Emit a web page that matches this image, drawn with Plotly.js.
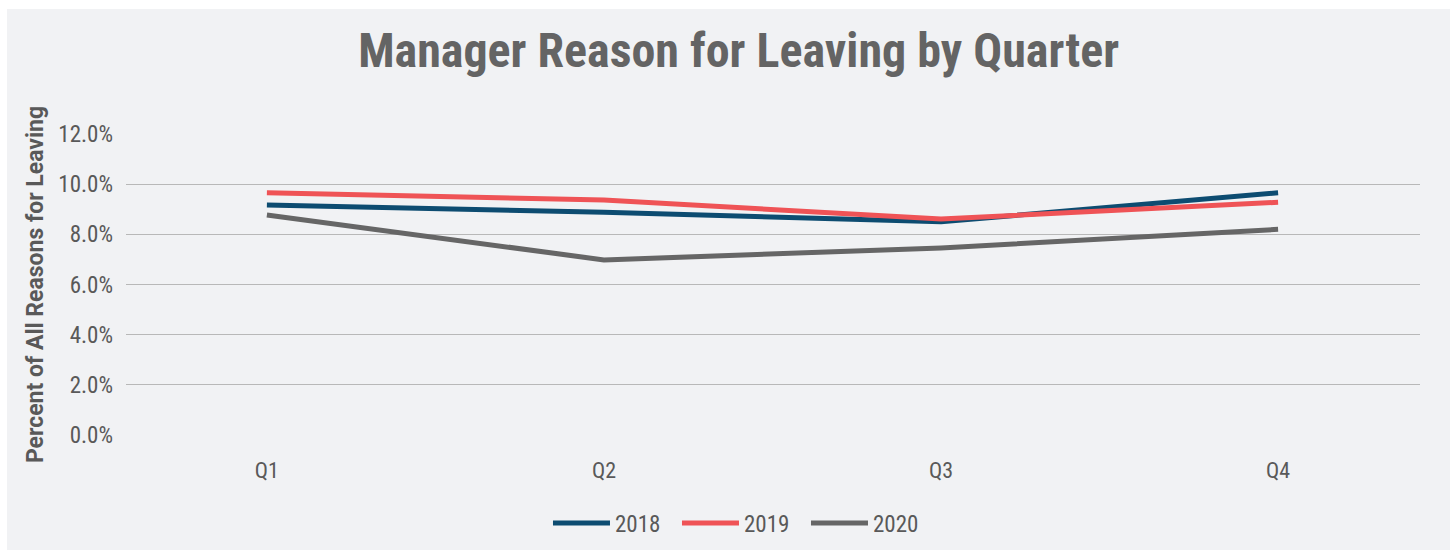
<!DOCTYPE html>
<html>
<head>
<meta charset="utf-8">
<script src="https://cdn.plot.ly/plotly-3.0.1.min.js"></script>
<style>
  html, body { margin: 0; padding: 0; background: #ffffff; }
  #chart { position: absolute; left: 7px; top: 9px; width: 1443px; height: 541px; }
</style>
</head>
<body>
<div id="chart"></div>
<script>
const quarters = ["Q1", "Q2", "Q3", "Q4"];
const seriesNames = ["2018", "2019", "2020"];
const values2018 = [0.0917, 0.0888, 0.0850, 0.0966];
const values2019 = [0.0966, 0.0937, 0.0861, 0.0928];
const values2020 = [0.0877, 0.0698, 0.0746, 0.0820];
const colors = ["#0d4c71", "#ef5356", "#666666"];
const yTicks = [0, 0.02, 0.04, 0.06, 0.08, 0.10, 0.12];

const allValues = [values2018, values2019, values2020];
const traces = allValues.map((vals, i) => ({
  type: "scatter",
  mode: "lines",
  name: seriesNames[i],
  x: [0, 1, 2, 3],
  y: vals,
  line: { color: colors[i], width: 5 },
  hoverinfo: "skip"
}));

const condFam = "'Roboto Condensed', 'Liberation Sans Narrow', Roboto, sans-serif";
const regFam = "Roboto, 'Open Sans', sans-serif";

const layout = {
  width: 1443,
  height: 541,
  paper_bgcolor: "#f1f2f4",
  plot_bgcolor: "#f1f2f4",
  margin: { l: 119, r: 30, t: 125, b: 115 },
  title: {
    text: "<b>Manager Reason for Leaving by Quarter</b>",
    font: { family: condFam, size: 48, color: "#646464" },
    x: 0.507, xanchor: "center",
    y: 0.924, yanchor: "middle"
  },
  showlegend: true,
  legend: {
    orientation: "h",
    xref: "container", yref: "container",
    x: 0.509, xanchor: "center",
    y: 0.05, yanchor: "middle",
    itemwidth: 57,
    entrywidth: 57,
    entrywidthmode: "pixels",
    tracegroupgap: 0,
    font: { family: condFam, size: 23, color: "#595959" },
    bgcolor: "rgba(0,0,0,0)"
  },
  xaxis: {
    range: [-0.418, 3.421],
    tickmode: "array",
    tickvals: [0, 1, 2, 3],
    ticktext: quarters,
    showgrid: false,
    zeroline: false,
    showline: false,
    ticks: "",
    ticklabelstandoff: 20,
    tickfont: { family: condFam, size: 22, color: "#595959" },
    fixedrange: true
  },
  yaxis: {
    range: [0, 0.12],
    tickmode: "array",
    tickvals: yTicks,
    tickformat: ".1%",
    showgrid: true,
    gridcolor: "#b8b8b8",
    gridwidth: 1.3,
    zeroline: false,
    showline: false,
    ticks: "",
    ticklabelstandoff: 12,
    tickfont: { family: condFam, size: 23, color: "#595959" },
    title: {
      text: "<b>Percent of All Reasons for Leaving</b>",
      font: { family: regFam, size: 23, color: "#595959" },
      standoff: 8
    },
    fixedrange: true
  }
};

Plotly.newPlot("chart", traces, layout, { displayModeBar: false, staticPlot: true }).then(gd => {
  gd.querySelectorAll(".legend .legendlines path").forEach(p => {
    p.setAttribute("d", "M5,0h57");
  });
});
</script>
</body>
</html>
